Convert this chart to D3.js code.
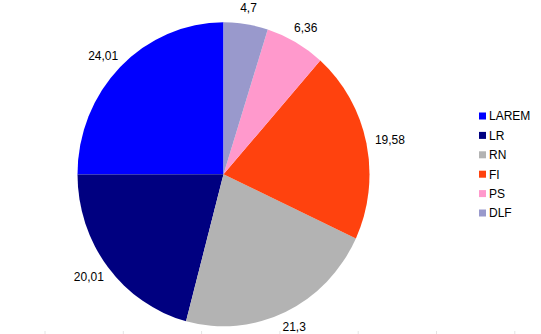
<!DOCTYPE html>
<html>
<head>
<meta charset="utf-8">
<script src="https://cdn.jsdelivr.net/npm/d3@7"></script>
<style>
  body { margin: 0; background: #fff; }
  text { font-family: "Liberation Sans", Arial, sans-serif; font-size: 12px; fill: #000; }
</style>
</head>
<body>
<svg id="chart"></svg>
<script>
// parties and their values, in legend order
var parties = ["LAREM", "LR", "RN", "FI", "PS", "DLF"];
var scores = [24.01, 20.01, 21.3, 19.58, 6.36, 4.7];
var labels = ["24,01", "20,01", "21,3", "19,58", "6,36", "4,7"];
var colours = ["#0000ff", "#000080", "#b3b3b3", "#ff420e", "#ff99cc", "#9999cc"];

var width = 541, height = 334;
var cx = 223.5, cy = 174.3;
var rx = 146, ry = 152;

var svg = d3.select("#chart")
    .attr("width", width)
    .attr("height", height);

var data = parties.map(function(p, i){
    return {name: p, value: scores[i], label: labels[i], colour: colours[i]};
});

// counterclockwise from 12 o'clock
var pie = d3.pie()
    .sort(null)
    .value(function(d){ return d.value; })
    .startAngle(0)
    .endAngle(-2 * Math.PI);

var arcs = pie(data);
var arc = d3.arc().innerRadius(0).outerRadius(ry);

var pieg = svg.append("g")
    .attr("transform", "translate(" + cx + "," + cy + ") scale(" + (rx / ry) + ",1)");

pieg.selectAll(".slice")
    .data(arcs)
    .enter().append("path")
    .attr("class", "slice")
    .attr("d", arc)
    .attr("fill", function(d){ return d.data.colour; });

// value labels outside the slices
var lab = svg.selectAll(".lab")
    .data(arcs)
    .enter().append("text")
    .attr("class", "lab")
    .attr("text-anchor", "middle")
    .attr("dy", "0.35em")
    .text(function(d){ return d.data.label; });

lab.each(function(d){
    var a = (d.startAngle + d.endAngle) / 2;
    var w = this.getComputedTextLength();
    var s = Math.sin(a), c = Math.cos(a);
    var x = cx + s * (rx + 9) + s * w / 2;
    var y = cy - c * (ry + 9) - c * 7;
    d3.select(this).attr("x", x).attr("y", y);
});

// legend
var legend = svg.append("g").attr("transform", "translate(479,116)");
var rows = legend.selectAll(".row")
    .data(data)
    .enter().append("g")
    .attr("class", "row")
    .attr("transform", function(d, i){ return "translate(0," + (i * 19.4) + ")"; });

rows.append("rect")
    .attr("x", 0).attr("y", -3.5)
    .attr("width", 7).attr("height", 7)
    .attr("fill", function(d){ return d.colour; });

rows.append("text")
    .attr("x", 10)
    .attr("dy", "0.36em")
    .text(function(d){ return d.name; });

// faint marks along the bottom edge
var ticks = d3.range(45, width, 78.3);
svg.selectAll(".tk")
    .data(ticks)
    .enter().append("line")
    .attr("x1", function(d){ return d; }).attr("x2", function(d){ return d; })
    .attr("y1", 331).attr("y2", 334)
    .attr("stroke", "#e4e4e4")
    .attr("stroke-width", 1);
</script>
</body>
</html>
